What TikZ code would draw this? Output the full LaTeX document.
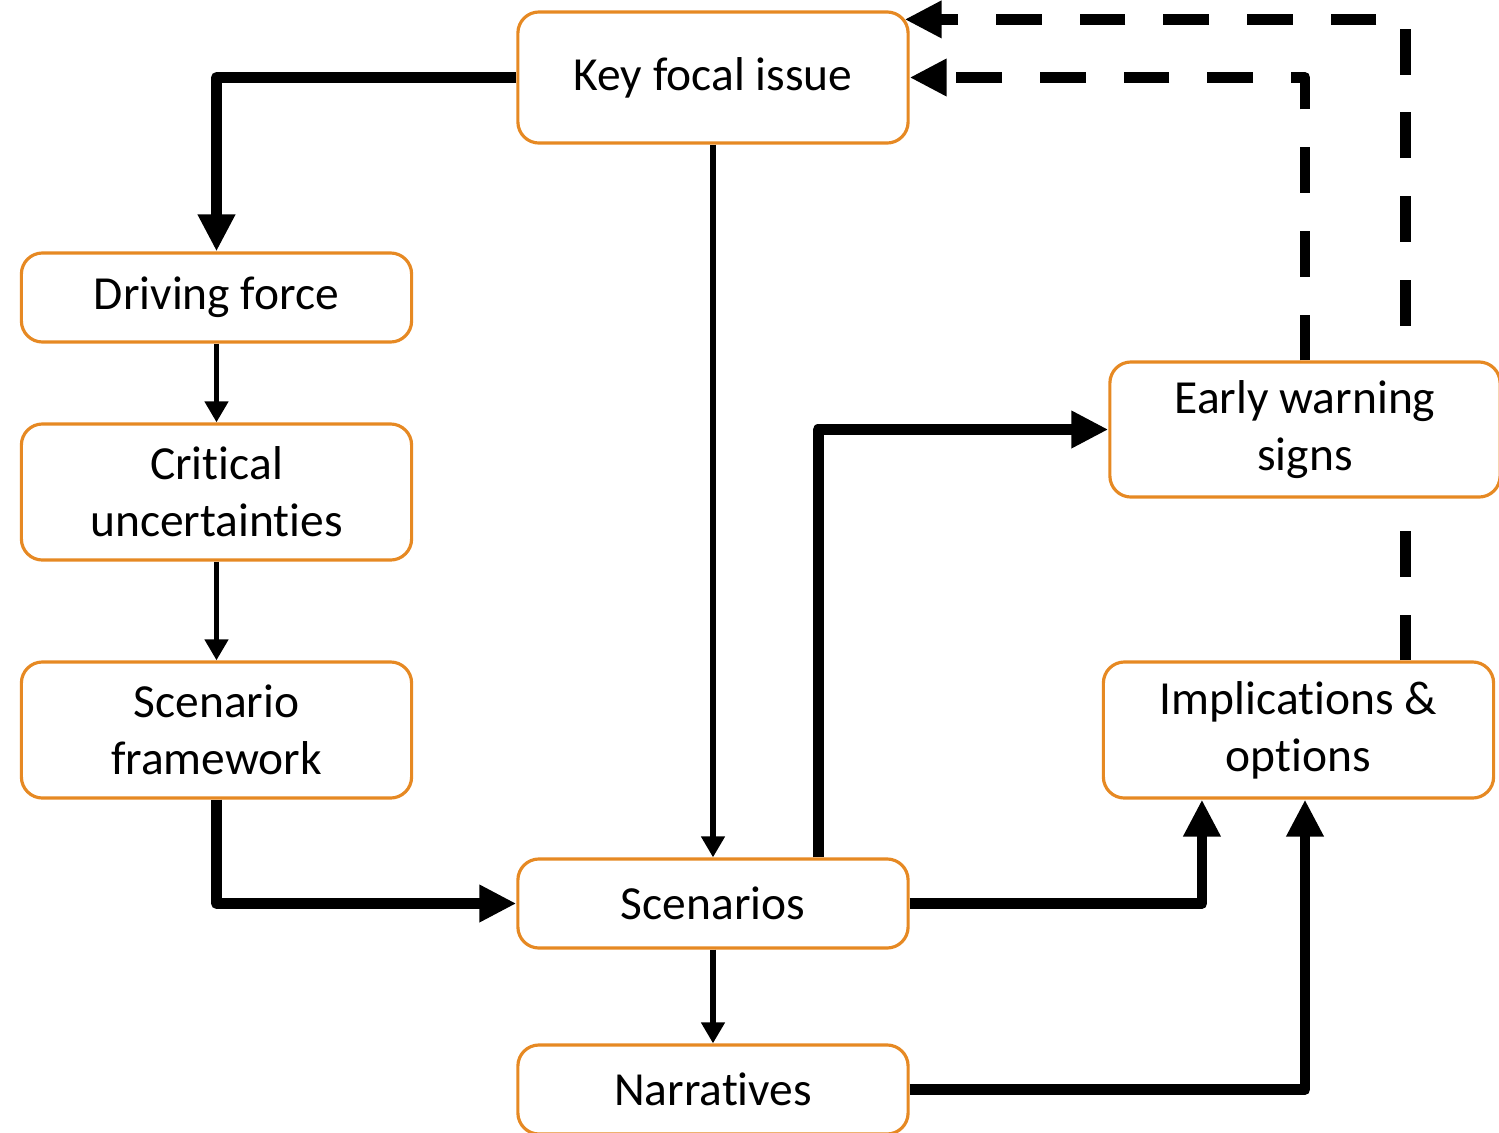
\documentclass[tikz,border=0pt]{standalone}
\usepackage{fontspec}
\setmainfont{Carlito}[Ligatures={NoCommon,NoContextual}]
\usetikzlibrary{arrows.meta,backgrounds}
\definecolor{boxorange}{RGB}{230,137,35}
\begin{document}
\begin{tikzpicture}[x=0.01cm,y=-0.01cm,
	box/.style={draw=boxorange, line width=0.9pt, rounded corners=6pt, fill=white,
		align=center, minimum width=3.9cm, inner sep=0pt,
		font=\fontsize{13.5}{16.3}\selectfont},
	flow/.style={line width=1.7pt, -{Triangle[length=6pt,width=6.5pt]}},
	bigflow/.style={line width=3.1pt, line join=round, -{Triangle[length=10.5pt,width=10pt]}},
	feedback/.style={bigflow, dash pattern=on 13pt off 10.8pt}]
			\useasboundingbox (0,0) rectangle (1499,1133);
			
			\node[box, minimum height=1.31cm](kfi) at (713,77.5) {Key focal issue};
			\node[box, minimum height=0.89cm](df) at (216.5,297.5) {Driving force};
			\node[box, minimum height=1.36cm](cu) at (216.5,492) {Critical\\uncertainties};
			\node[box, minimum height=1.36cm](sf) at (216.5,730) {Scenario\\framework};
			\node[box, minimum height=0.89cm](sc) at (713,903.5) {Scenarios};
			\node[box, minimum height=0.89cm](nar) at (713,1089.5) {Narratives};
			\node[box, minimum height=1.35cm](ews) at (1305,429.5) {Early warning\\signs};
			\node[box, minimum height=1.36cm](io) at (1298.5,730) {Implications \&\\options};
			
			\draw[bigflow](kfi.west) -| (df.north);
			\draw[flow](df) -- (cu);
			\draw[flow](cu) -- (sf);
			\draw[bigflow](sf.south) |- (sc.west);
			\draw[flow](kfi) -- (sc);
			\draw[flow](sc) -- (nar);
			\draw[bigflow]([xshift=1.05cm]sc.north) |- (ews.west);
			\draw[bigflow](sc.east) -| ([xshift=-0.965cm]io.south);
			\draw[bigflow](nar.east) -| (io.south -| ews.south);
			
			\draw[feedback](ews.north) |- (kfi.east);
			\begin{scope}[on background layer]
			\draw[feedback]([xshift=1.065cm]io.north) |- ([xshift=-0.05cm,yshift=-0.09cm]kfi.north east);
			\end{scope}
			\end{tikzpicture}
\end{document}
